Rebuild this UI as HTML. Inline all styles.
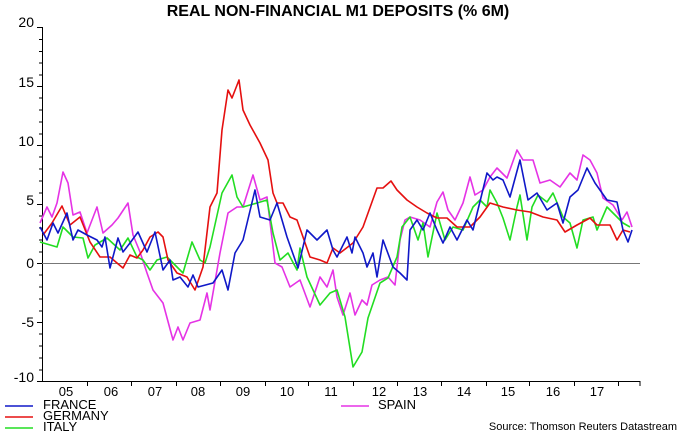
<!DOCTYPE html>
<html><head><style>body{margin:0;background:#fff}svg{display:block}text{font-family:"Liberation Sans",Arial,sans-serif}</style></head><body>
<svg width="680" height="434" viewBox="0 0 680 434" xmlns="http://www.w3.org/2000/svg">
<text x="338" y="16" text-anchor="middle" font-size="16" font-weight="bold">REAL NON-FINANCIAL M1 DEPOSITS (% 6M)</text>
<g stroke="#000" stroke-width="1" fill="none">
<line x1="42.5" y1="27" x2="42.5" y2="381"/>
<line x1="42" y1="381.5" x2="640" y2="381.5"/>
<path d="M37 27.5h5M37 86.5h5M37 145.5h5M37 204.5h5M37 263.5h5M37 322.5h5M37 381.5h5"/>
<path d="M39 39.5h3M39 51.5h3M39 63h3M39 75h3M39 98h3M39 110h3M39 122h3M39 134h3M39 157h3M39 169h3M39 181h3M39 193h3M39 216h3M39 228h3M39 240h3M39 252h3M39 275h3M39 287h3M39 299h3M39 311h3M39 334h3M39 346h3M39 358h3M39 370h3"/>
<path d="M87.5 381v5M131.5 381v5M176.5 381v5M220.5 381v5M265.5 381v5M308.5 381v5M353.5 381v5M397.5 381v5M441.5 381v5M486.5 381v5M529.5 381v5M574.5 381v5M618.5 381v5M640 381v5"/>
</g>
<line x1="42" y1="263.5" x2="640" y2="263.5" stroke="#777" stroke-width="1"/>
<g font-size="14" text-anchor="end">
<text x="34" y="27">20</text><text x="34" y="87">15</text><text x="34" y="146">10</text><text x="34" y="205">5</text><text x="34" y="268">0</text><text x="34" y="327">-5</text><text x="34" y="382">-10</text>
</g>
<g font-size="13" text-anchor="middle">
<text x="66" y="396">05</text><text x="111" y="396">06</text><text x="155" y="396">07</text><text x="198" y="396">08</text><text x="243" y="396">09</text><text x="287" y="396">10</text><text x="331" y="396">11</text><text x="379" y="396">12</text><text x="420" y="396">13</text><text x="464" y="396">14</text><text x="508" y="396">15</text><text x="553" y="396">16</text><text x="597" y="396">17</text>
</g>
<g fill="none" stroke-width="1.6" stroke-linejoin="round">
<polyline stroke="#e533e5" points="40,223 47,207 52,217 57,203 63,172 68,183 73,215 80,212 87,233 97,207 103,233 112,225 118,218 128,203 133,235 140,252 147,273 153,290 163,303 173,340 178,327 183,340 190,323 200,320 207,293 210,310 220,253 228,213 237,207 243,207 253,175 260,200 267,197 275,263 282,267 290,287 300,280 310,307 320,277 327,287 333,270 337,297 343,315 350,293 355,315 362,300 367,305 372,285 380,280 388,277 395,285 400,240 405,220 410,217 420,220 430,227 437,202 443,192 448,210 455,220 463,203 470,177 475,195 483,190 490,177 497,168 507,178 517,150 523,160 533,160 540,183 550,180 560,187 570,173 577,180 583,155 590,160 597,173 603,198 613,205 622,220 627,212 632,227"/>
<polyline stroke="#22dd22" points="40,242 57,247 63,227 73,237 83,238 88,258 95,245 107,238 120,250 128,238 137,257 143,260 150,270 157,260 167,257 177,267 183,273 192,242 200,260 205,263 210,247 222,193 232,175 237,197 243,207 257,203 267,200 273,233 280,260 288,253 297,270 300,248 307,277 320,305 330,293 337,290 345,317 353,367 362,352 368,318 380,283 388,278 397,257 402,227 410,217 418,240 423,223 428,257 437,213 445,240 453,227 463,230 473,207 480,200 487,207 490,190 497,203 503,218 510,240 517,207 520,195 527,240 532,207 538,195 547,202 553,193 563,217 570,223 577,248 583,220 593,217 597,230 607,207 617,217 623,223 630,227"/>
<polyline stroke="#e51010" points="43,235 52,223 62,206 70,225 80,217 90,242 100,257 110,257 117,263 123,268 130,255 137,258 143,250 150,237 158,232 163,237 168,260 177,273 187,277 195,290 203,267 210,207 217,193 222,130 228,90 232,98 239,80 243,110 250,125 260,143 268,160 273,193 277,203 283,203 290,217 297,220 303,237 310,257 320,260 327,263 333,248 340,253 353,243 363,227 377,188 383,188 391,181 397,190 407,200 417,207 427,213 437,218 447,218 457,227 470,227 480,217 490,203 503,207 517,210 530,212 543,217 557,220 565,232 577,225 590,218 597,225 610,225 617,240 623,230 630,232"/>
<polyline stroke="#1018c8" points="40,227 47,240 53,223 58,233 67,213 73,240 78,230 87,235 97,240 102,247 105,237 110,268 118,238 123,252 130,243 138,232 147,252 155,232 163,270 170,260 173,280 180,277 188,287 193,275 198,287 213,283 222,270 228,290 235,253 243,240 255,190 260,217 270,220 277,203 287,237 298,268 307,230 317,240 327,230 333,250 337,257 347,237 352,253 355,237 363,253 367,267 373,253 377,277 383,240 393,267 400,273 407,280 410,230 417,220 423,230 430,213 437,230 443,243 450,227 457,240 467,220 473,230 487,173 493,180 497,177 503,180 510,197 520,160 528,200 537,193 547,210 557,203 563,223 570,197 578,190 587,168 595,183 607,200 617,202 623,230 628,242 632,230"/>
</g>
<g stroke-width="1.6">
<line x1="5" y1="406" x2="33" y2="406" stroke="#1018c8"/>
<line x1="5" y1="417" x2="33" y2="417" stroke="#e51010"/>
<line x1="5" y1="428" x2="33" y2="428" stroke="#22dd22"/>
<line x1="341" y1="406" x2="369" y2="406" stroke="#e533e5"/>
</g>
<g font-size="13">
<text x="43" y="409">FRANCE</text><text x="43" y="420">GERMANY</text><text x="43" y="431">ITALY</text><text x="378" y="409">SPAIN</text>
</g>
<text x="677" y="430" font-size="11" text-anchor="end">Source: Thomson Reuters Datastream</text>
</svg>
</body></html>
